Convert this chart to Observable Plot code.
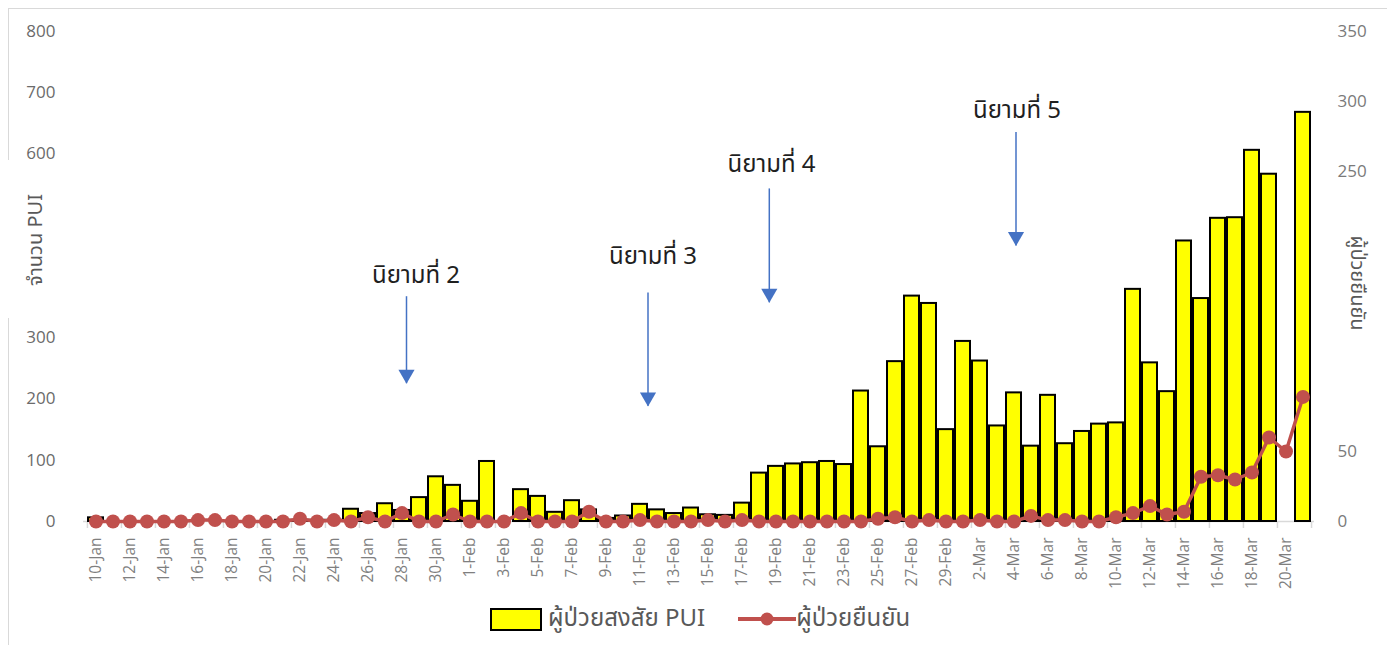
<!DOCTYPE html>
<html>
<head>
<meta charset="utf-8">
<script src="https://cdn.jsdelivr.net/npm/d3@7"></script>
<script src="https://cdn.jsdelivr.net/npm/@observablehq/plot@0.6"></script>
<style>
  html, body { margin: 0; padding: 0; background: #fff; }
  body { width: 1387px; height: 645px; overflow: hidden; position: relative;
         font-family: "Segoe UI", "Leelawadee UI", "Noto Sans Thai", "Open Sans", "Noto Sans", sans-serif; }
  #frame { position: absolute; left: 8px; top: 8px; width: 1500px; height: 800px; border: 1px solid #d9d9d9; }
  #chart { position: absolute; left: 0; top: 0; }
  .tbox { position: absolute; background: #fff; }
  .tbox span { position: absolute; white-space: nowrap; color: #595959; font-size: 20px; }
  #legend { position: absolute; left: 490px; top: 601px; display: flex; align-items: center; color: #595959; font-size: 24px; }
  #legend .sw { width: 48px; height: 19px; background: #ffff00; border: 2px solid #000; }
</style>
</head>
<body>
<div id="frame"></div>
<div id="chart"></div>
<div class="tbox" style="left:0;top:160px;width:64px;height:158px;">
  <span style="left:36px;top:80px;transform:translate(-50%,-50%) rotate(-90deg);">จำนวน PUI</span>
</div>
<div class="tbox" style="left:1328px;top:182px;width:59px;height:212px;">
  <span style="left:29px;top:101px;transform:translate(-50%,-50%) rotate(90deg);">ผู้ป่วยยืนยัน</span>
</div>
<div id="legend">
  <div class="sw"></div>
  <span style="margin-left:6px;">ผู้ป่วยสงสัย PUI</span>
  <svg width="58" height="20" style="margin-left:33px;"><line x1="0" y1="10" x2="58" y2="10" stroke="#c0504d" stroke-width="4"/><circle cx="29" cy="10" r="6.5" fill="#c0504d"/></svg>
  <span>ผู้ป่วยยืนยัน</span>
</div>
<script>
// ---- data ----
const dates = [
  "10-Jan","11-Jan","12-Jan","13-Jan","14-Jan","15-Jan","16-Jan","17-Jan","18-Jan","19-Jan",
  "20-Jan","21-Jan","22-Jan","23-Jan","24-Jan","25-Jan","26-Jan","27-Jan","28-Jan","29-Jan",
  "30-Jan","31-Jan","1-Feb","2-Feb","3-Feb","4-Feb","5-Feb","6-Feb","7-Feb","8-Feb",
  "9-Feb","10-Feb","11-Feb","12-Feb","13-Feb","14-Feb","15-Feb","16-Feb","17-Feb","18-Feb",
  "19-Feb","20-Feb","21-Feb","22-Feb","23-Feb","24-Feb","25-Feb","26-Feb","27-Feb","28-Feb",
  "29-Feb","1-Mar","2-Mar","3-Mar","4-Mar","5-Mar","6-Mar","7-Mar","8-Mar","9-Mar",
  "10-Mar","11-Mar","12-Mar","13-Mar","14-Mar","15-Mar","16-Mar","17-Mar","18-Mar","19-Mar",
  "20-Mar","21-Mar"
];
const pui = [
  6,0,0,0,0,0,0,0,0,0,
  0,2,2,2,2,20,13,29,18,39,
  73,59,33,98,0,52,41,15,34,19,
  5,9,28,19,13,22,11,10,30,79,
  90,94,96,98,93,213,122,261,368,356,
  150,294,262,156,210,123,206,127,147,159,
  161,379,259,212,458,364,495,496,606,567,
  0,668
];
const confirmed = [
  0,0,0,0,0,0,1,1,0,0,
  0,0,2,0,1,0,3,0,6,0,
  0,5,0,0,0,6,0,0,0,7,
  0,0,1,0,0,0,1,0,1,0,
  0,0,0,0,0,0,2,3,0,1,
  0,0,1,0,0,4,1,1,0,0,
  3,6,11,5,7,32,33,30,35,60,
  50,89
];
const tickDates = dates.filter((d, i) => i % 2 === 0);
const leftTicks = [0, 100, 200, 300, 600, 700, 800];
const rightTicks = [0, 50, 250, 300, 350];
const leftMax = 800, rightMax = 350;

// annotations: date, arrow top / tip, text baseline (left-axis units)
const annLabels = ["นิยามที่ 2", "นิยามที่ 3", "นิยามที่ 4", "นิยามที่ 5"];
const annDates  = ["28-Jan", "11-Feb", "18-Feb", "4-Mar"];
const annTextY  = [390, 421, 570, 658];
const annArrowY1 = [367, 373, 543, 635];
const annArrowY2 = [225, 188, 357, 450];

// ---- layout / style ----
const W = 1387, H = 590, mL = 83, mR = 73, mT = 31, mB = H - 521;
const step = (W - mL - mR) / dates.length;
const annTextDx = [14, 13, 12.5, 3];
const annArrowDx = [4.5, 8, 10.3, 2];
const toLeft = v => v * leftMax / rightMax;
const pxPerUnit = (H - mT - mB) / leftMax;
const thaiFont = "'Segoe UI','Leelawadee UI','Noto Sans Thai','Open Sans',sans-serif";

const rows = dates.map((d, i) => ({date: d, pui: pui[i], conf: confirmed[i]}));
const ann = annLabels.map((t, i) => ({label: t, date: annDates[i], ty: annTextY[i], y1: annArrowY1[i], y2: annArrowY2[i]}));

const annMarks = ann.flatMap((a, i) => [
  Plot.text([a], {x: "date", y: "ty", text: "label", dx: annTextDx[i], lineAnchor: "bottom",
    fontSize: 24, fill: "#1f1f1f", fontFamily: thaiFont}),
  Plot.ruleX([a], {x: "date", y1: "y1", y2: "y2", dx: annArrowDx[i], stroke: "#4472c4", strokeWidth: 1.5}),
  Plot.dot([a], {x: "date", y: "y2", symbol: "triangle", rotate: 180, r: 6, fill: "#4472c4", stroke: "none", dx: annArrowDx[i], dy: -9.3})
]);

const chart = Plot.plot({
  width: W, height: H,
  marginLeft: mL, marginRight: mR, marginTop: mT, marginBottom: mB,
  style: {fontFamily: "'Segoe UI','Open Sans','Noto Sans',sans-serif", background: "transparent", overflow: "visible"},
  x: {type: "band", domain: dates, paddingInner: 0.12, paddingOuter: 0.06},
  y: {domain: [0, leftMax]},
  marks: [
    Plot.ruleY([0], {stroke: "#d9d9d9", strokeWidth: 1.5}),
    Plot.ruleX(tickDates, {x: d => d, y1: 0, y2: -7 / pxPerUnit, dx: -step / 2, stroke: "#d9d9d9", strokeWidth: 1.5}),
    Plot.ruleX([dates[dates.length - 1]], {x: d => d, y1: 0, y2: -7 / pxPerUnit, dx: step / 2, stroke: "#d9d9d9", strokeWidth: 1.5}),
    Plot.axisX(tickDates, {tickSize: 0, tickPadding: 16, tickRotate: -90, fontSize: 15.5, fill: "#7f7f7f", label: null}),
    Plot.axisY(leftTicks, {anchor: "left", tickSize: 0, tickPadding: 28, fontSize: 17, fill: "#6b6b6b", label: null}),
    Plot.axisY(rightTicks.map(toLeft), {anchor: "right", tickSize: 0, tickPadding: 23, fontSize: 17, fill: "#7a7a7a", label: null,
      tickFormat: d => Math.round(d * rightMax / leftMax)}),
    Plot.barY(rows.filter(d => d.pui > 0), {x: "date", y: "pui", fill: "#ffff00", stroke: "#000", strokeWidth: 2}),
    Plot.line(rows, {x: "date", y: d => toLeft(d.conf), stroke: "#c0504d", strokeWidth: 3.5}),
    Plot.dot(rows, {x: "date", y: d => toLeft(d.conf), r: 7, fill: "#c0504d", stroke: "none"}),
    ...annMarks
  ]
});
document.getElementById("chart").appendChild(chart);
</script>
</body>
</html>
